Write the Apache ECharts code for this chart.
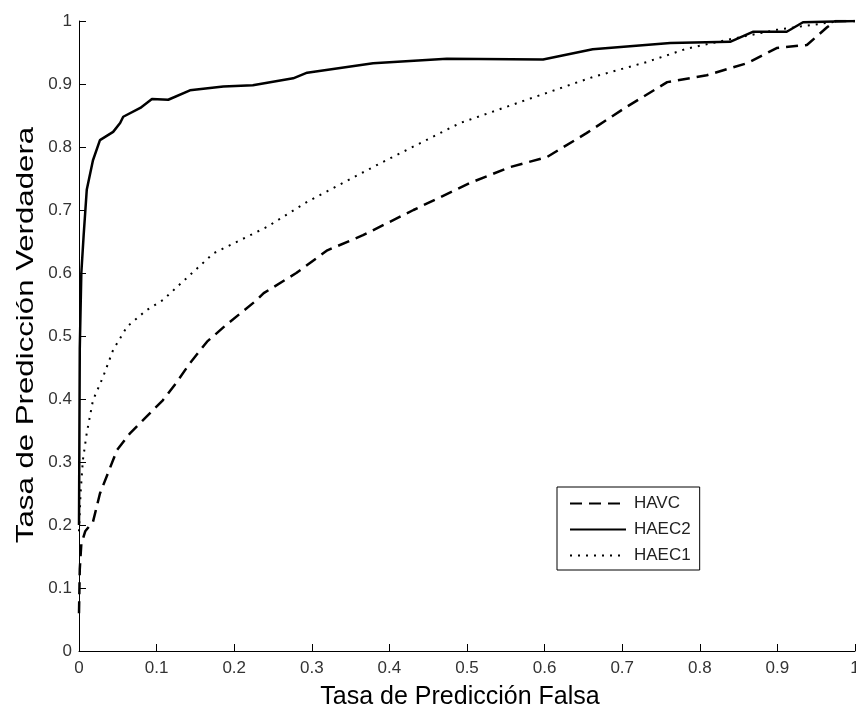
<!DOCTYPE html>
<html>
<head>
<meta charset="utf-8">
<script src="https://cdn.jsdelivr.net/npm/echarts@6/dist/echarts.min.js"></script>
<style>
  html, body { margin: 0; padding: 0; background: #fff; }
  #chart { width: 856px; height: 704px; }
</style>
</head>
<body>
<div id="chart"></div>
<script>
// ROC curves: false positive rate (x) vs true positive rate (y)
const seriesNames = ['HAVC', 'HAEC2', 'HAEC1'];

const havcFpr = [0, 0.001, 0.003, 0.008, 0.018, 0.027, 0.049, 0.066, 0.087, 0.108, 0.125, 0.143, 0.165, 0.19, 0.229, 0.238, 0.28, 0.32, 0.366, 0.431, 0.504, 0.555, 0.603, 0.654, 0.706, 0.758, 0.809, 0.861, 0.899, 0.938, 0.964, 0.975, 1.0];
const havcTpr = [0.06, 0.13, 0.17, 0.19, 0.205, 0.25, 0.319, 0.346, 0.372, 0.398, 0.425, 0.457, 0.491, 0.518, 0.557, 0.568, 0.6, 0.636, 0.66, 0.7, 0.743, 0.768, 0.784, 0.822, 0.864, 0.903, 0.914, 0.933, 0.957, 0.962, 0.99, 1.0, 1.0];

const haec2Fpr = [0, 0.001, 0.003, 0.006, 0.01, 0.018, 0.027, 0.044, 0.053, 0.057, 0.079, 0.094, 0.115, 0.143, 0.186, 0.224, 0.276, 0.294, 0.379, 0.474, 0.598, 0.662, 0.762, 0.839, 0.869, 0.912, 0.933, 1.0];
const haec2Tpr = [0.2, 0.48, 0.6, 0.66, 0.732, 0.779, 0.811, 0.824, 0.838, 0.848, 0.862, 0.876, 0.875, 0.89, 0.896, 0.898, 0.909, 0.918, 0.933, 0.94, 0.939, 0.955, 0.965, 0.967, 0.983, 0.983, 0.998, 1.0];

const haec1Fpr = [0, 0.002, 0.005, 0.01, 0.018, 0.031, 0.044, 0.062, 0.087, 0.108, 0.173, 0.242, 0.294, 0.388, 0.491, 0.577, 0.662, 0.732, 0.783, 0.835, 0.899, 0.964, 0.98, 1.0];
const haec1Tpr = [0.19, 0.25, 0.303, 0.346, 0.398, 0.435, 0.478, 0.515, 0.541, 0.557, 0.631, 0.673, 0.713, 0.774, 0.838, 0.875, 0.911, 0.935, 0.956, 0.97, 0.986, 0.997, 1.0, 1.0];

const xTitle = 'Tasa de Predicción Falsa';
const yTitle = 'Tasa de Predicción Verdadera';

function pairs(xs, ys) {
  return xs.map((x, i) => [x, ys[i]]);
}

const fontFamily = 'Arial, "Liberation Sans", sans-serif';
const tickFmt = v => String(+v.toFixed(1));

const axisCommon = {
  type: 'value',
  min: 0,
  max: 1,
  interval: 0.1,
  axisLine: { show: true, onZero: false, lineStyle: { color: '#000', width: 1 } },
  axisTick: { show: true, inside: true, length: 7, lineStyle: { color: '#000' } },
  splitLine: { show: false },
  axisLabel: { color: '#333', fontSize: 17, fontFamily, formatter: tickFmt }
};

const chart = echarts.init(document.getElementById('chart'), null, { renderer: 'canvas' });
chart.setOption({
  animation: false,
  backgroundColor: '#fff',
  grid: { left: 79, right: 1, top: 21, bottom: 53, outerBoundsMode: 'none', containLabel: false },
  xAxis: Object.assign({}, axisCommon, {
    name: xTitle,
    nameLocation: 'middle',
    nameGap: 34,
    nameTextStyle: { color: '#000', fontSize: 25, fontFamily, padding: [0, 14, 0, 0] },
    axisLabel: Object.assign({}, axisCommon.axisLabel, { margin: 9 })
  }),
  yAxis: Object.assign({}, axisCommon, {
    axisLabel: Object.assign({}, axisCommon.axisLabel, { margin: 7 })
  }),
  // vertical axis title, stretched along its length
  graphic: [{
    type: 'text',
    x: 26,
    y: 335,
    rotation: Math.PI / 2,
    scaleX: 1.3,
    style: {
      text: yTitle,
      fill: '#000',
      font: '24px ' + fontFamily,
      align: 'center',
      verticalAlign: 'middle'
    }
  }],
  legend: {
    orient: 'vertical',
    left: 557,
    top: 487,
    data: seriesNames,
    backgroundColor: '#fff',
    borderColor: '#000',
    borderWidth: 1,
    padding: [8, 9, 6, 12],
    itemGap: 9,
    itemWidth: 56,
    itemHeight: 20,
    itemStyle: { color: 'transparent', borderColor: 'transparent', borderWidth: 0 },
    textStyle: { color: '#222', fontSize: 17, fontFamily, padding: [0, 0, 0, 3] }
  },
  series: [
    {
      name: seriesNames[0],
      type: 'line',
      data: pairs(havcFpr, havcTpr),
      symbol: 'none',
      lineStyle: { color: '#000', width: 2.5, type: [12, 7] },
      itemStyle: { color: '#000' }
    },
    {
      name: seriesNames[1],
      type: 'line',
      data: pairs(haec2Fpr, haec2Tpr),
      symbol: 'none',
      lineStyle: { color: '#000', width: 2.5, type: 'solid' },
      itemStyle: { color: '#000' }
    },
    {
      name: seriesNames[2],
      type: 'line',
      data: pairs(haec1Fpr, haec1Tpr),
      symbol: 'none',
      lineStyle: { color: '#000', width: 2, type: [2, 6] },
      itemStyle: { color: '#000' }
    }
  ]
});
</script>
</body>
</html>
